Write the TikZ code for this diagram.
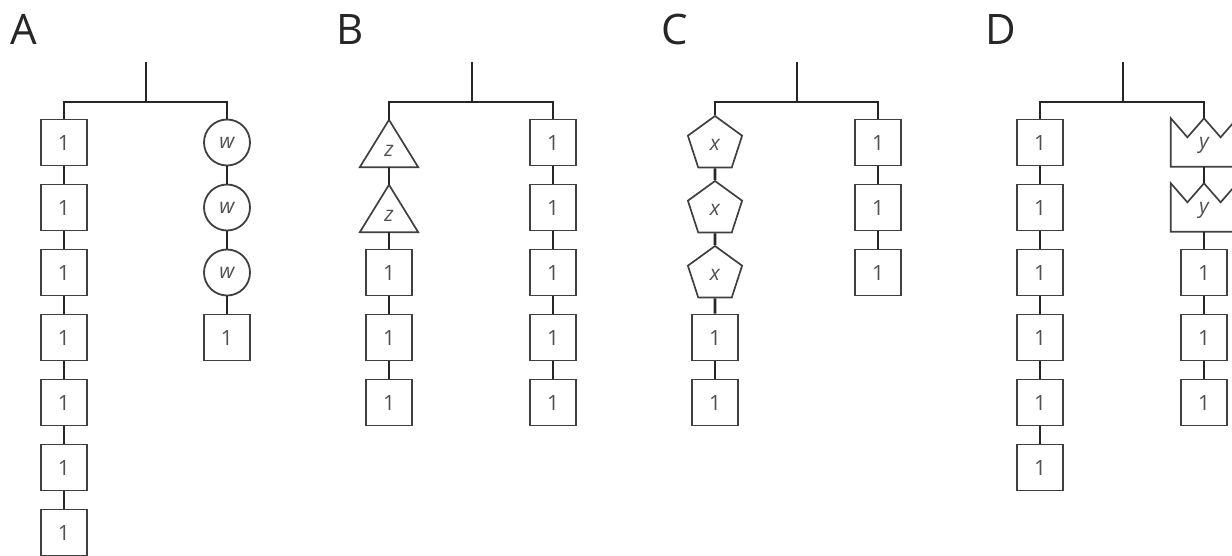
\documentclass[tikz,border=0pt]{standalone}
\usepackage{fontspec}
\setmainfont{Open Sans}
\usetikzlibrary{shapes.geometric,calc}
\definecolor{linec}{HTML}{262626}
\definecolor{shapec}{HTML}{404040}
\definecolor{textc}{HTML}{505050}
\begin{document}
\begin{tikzpicture}[x=1pt,y=-1pt,
  conn/.style={draw=linec,line width=2.6pt,line join=miter},
  item/.style={inner sep=0pt,text=textc,font=\fontsize{21}{21}\selectfont},
  sq/.style={item,draw=shapec,line width=1.8pt,minimum width=46pt,minimum height=46pt},
  circ/.style={item,circle,draw=shapec,line width=1.8pt,minimum size=46pt},
  pent/.style={item,regular polygon,regular polygon sides=5,draw=shapec,line width=1.7pt,minimum size=57pt},
  tribox/.style={item,minimum width=58pt,minimum height=47pt},
  crownbox/.style={item,minimum width=66pt,minimum height=48pt},
  outline/.style={draw=shapec,line width=1.7pt,line join=miter},
  panel/.style={font=\fontsize{42}{42}\selectfont,text=black!85,anchor=base,inner sep=0pt}
]
\useasboundingbox (0,0) rectangle (1232,555);

% panel labels
\node[panel] (labA) at (24,44) {A};
\node[panel] (labB) at (350,44) {B};
\node[panel] (labC) at (675,44) {C};
\node[panel] (labD) at (1001,44) {D};

% ---------------- Panel A ----------------
\foreach \i in {1,...,7} \node[sq] (AL\i) at (64,{142.5+65*(\i-1)}) {1};
\foreach \i in {1,...,3} \node[circ] (AR\i) at (227,{142.5+65*(\i-1)}) {\itshape w};
\node[sq] (AR4) at (227,337.5) {1};
\foreach \a/\b in {1/2,2/3,3/4,4/5,5/6,6/7} \draw[conn] (AL\a.south) -- (AL\b.north);
\foreach \a/\b in {1/2,2/3,3/4} \draw[conn] (AR\a.south) -- (AR\b.north);
\coordinate (At) at (146,62);
\coordinate (Aj) at (146,102);
\draw[conn] (At) -- (Aj);
\draw[conn] (AL1.north) -- (AL1.north |- Aj) -- (AR1.north |- Aj) -- (AR1.north);

% ---------------- Panel B ----------------
\foreach \i in {1,2} {
  \node[tribox] (BL\i) at (389,{143.5+65*(\i-1)}) {\raisebox{-13pt}[0pt][0pt]{\itshape z}};
  \draw[outline] (BL\i.north) -- (BL\i.south east) -- (BL\i.south west) -- cycle;
}
\foreach \i in {3,4,5} \node[sq] (BL\i) at (389,{142.5+65*(\i-1)}) {1};
\foreach \i in {1,...,5} \node[sq] (BR\i) at (553,{142.5+65*(\i-1)}) {1};
\foreach \a/\b in {1/2,2/3,3/4,4/5} {
  \draw[conn] (BL\a.south) -- (BL\b.north);
  \draw[conn] (BR\a.south) -- (BR\b.north);
}
\coordinate (Bt) at (472,62);
\coordinate (Bj) at (472,102);
\draw[conn] (Bt) -- (Bj);
\draw[conn] (BL1.north) -- (BL1.north |- Bj) -- (BR1.north |- Bj) -- (BR1.north);

% ---------------- Panel C ----------------
\foreach \i in {1,2,3} \node[pent] (CL\i) at (715,{144.5+65*(\i-1)}) {\itshape x};
\foreach \i in {4,5} \node[sq] (CL\i) at (715,{142.5+65*(\i-1)}) {1};
\foreach \i in {1,2,3} \node[sq] (CR\i) at (878,{142.5+65*(\i-1)}) {1};
\foreach \a/\b in {1/2,2/3,3/4,4/5} \draw[conn] (CL\a.south) -- (CL\b.north);
\foreach \a/\b in {1/2,2/3} \draw[conn] (CR\a.south) -- (CR\b.north);
\coordinate (Ct) at (797,62);
\coordinate (Cj) at (797,102);
\draw[conn] (Ct) -- (Cj);
\draw[conn] (CL1.north) -- (CL1.north |- Cj) -- (CR1.north |- Cj) -- (CR1.north);

% ---------------- Panel D ----------------
\foreach \i in {1,...,6} \node[sq] (DL\i) at (1040,{142.5+65*(\i-1)}) {1};
\foreach \i in {1,2} {
  \node[crownbox] (DR\i) at (1204,{142.5+65*(\i-1)}) {\raisebox{-6pt}[0pt][0pt]{\itshape y}};
  \draw[outline] (DR\i.south west) -- (DR\i.north west)
    -- ($(DR\i.north west)!.25!(DR\i.north east)+(0,19)$) -- (DR\i.north)
    -- ($(DR\i.north west)!.75!(DR\i.north east)+(0,19)$) -- (DR\i.north east)
    -- (DR\i.south east) -- cycle;
}
\foreach \i in {3,4,5} \node[sq] (DR\i) at (1204,{142.5+65*(\i-1)}) {1};
\foreach \a/\b in {1/2,2/3,3/4,4/5,5/6} \draw[conn] (DL\a.south) -- (DL\b.north);
\foreach \a/\b in {1/2,2/3,3/4,4/5} \draw[conn] (DR\a.south) -- (DR\b.north);
\coordinate (Dt) at (1123,62);
\coordinate (Dj) at (1123,102);
\draw[conn] (Dt) -- (Dj);
\draw[conn] (DL1.north) -- (DL1.north |- Dj) -- (DR1.north |- Dj) -- (DR1.north);
\end{tikzpicture}
\end{document}
